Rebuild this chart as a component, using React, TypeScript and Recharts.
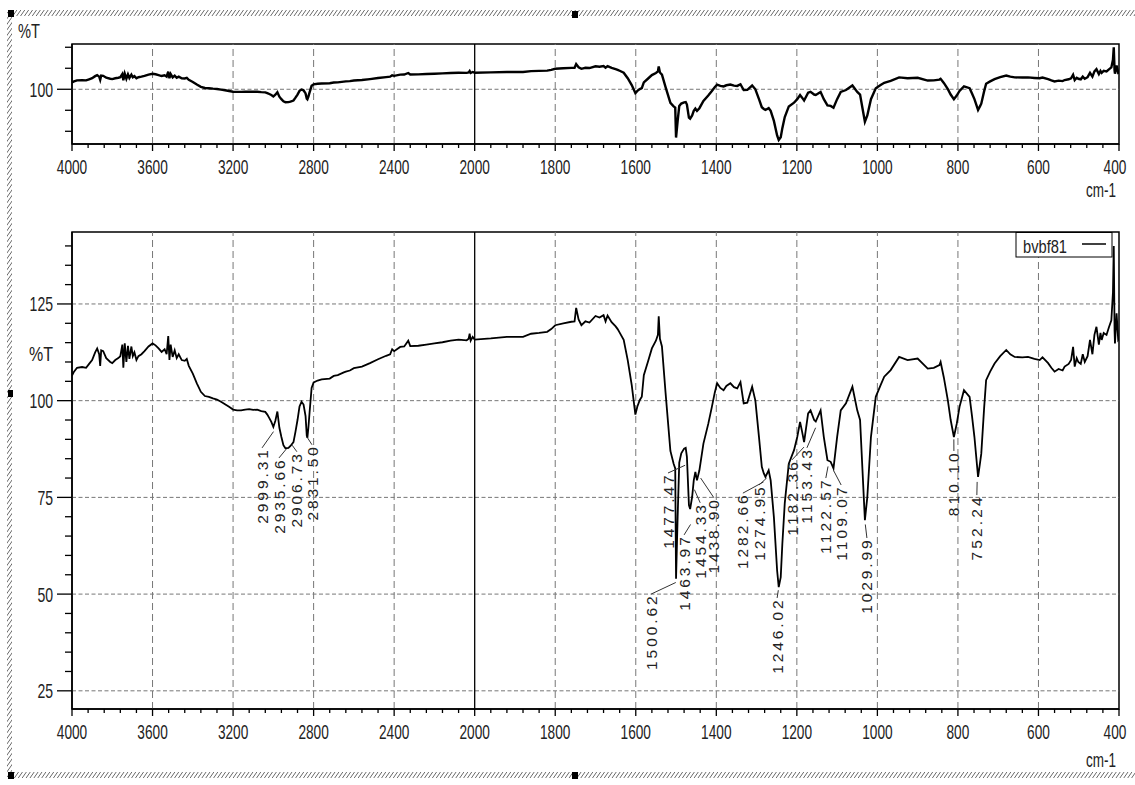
import React from 'react';
import { LineChart, Line, XAxis, YAxis, ReferenceLine, ReferenceArea, ReferenceDot } from 'recharts';

// ---- spectrum (wavenumber cm-1, %T) ----
const wavenumbers = [
  4000, 3990, 3975, 3950, 3930, 3915, 3900, 3885, 3875, 3865, 3860, 3855, 3845, 3830, 3810, 3800,
  3785, 3770, 3760, 3750, 3745, 3738, 3730, 3722, 3715, 3705, 3698, 3690, 3680, 3670, 3655, 3640,
  3620, 3600, 3585, 3570, 3555, 3540, 3530, 3522, 3516, 3510, 3500, 3490, 3480, 3470, 3455, 3440,
  3430, 3420, 3400, 3380, 3360, 3340, 3320, 3300, 3280, 3260, 3240, 3220, 3200, 3180, 3160, 3140,
  3120, 3100, 3080, 3060, 3040, 3030, 3020, 3010, 3000, 2990, 2980, 2970, 2960, 2950, 2940, 2925,
  2915, 2900, 2890, 2880, 2870, 2860, 2850, 2840, 2834, 2831, 2826, 2820, 2810, 2800, 2780, 2760,
  2720, 2700, 2680, 2650, 2640, 2620, 2600, 2560, 2520, 2480, 2440, 2420, 2410, 2400, 2370, 2350,
  2330, 2320, 2280, 2240, 2200, 2160, 2120, 2080, 2040, 2030, 2025, 2020, 2010, 2000, 1960, 1920,
  1880, 1860, 1840, 1820, 1810, 1800, 1780, 1760, 1752, 1748, 1742, 1735, 1725, 1715, 1700, 1690,
  1680, 1675, 1670, 1660, 1650, 1645, 1640, 1630, 1620, 1610, 1601, 1596, 1590, 1585, 1580, 1570,
  1560, 1550, 1545, 1543, 1540, 1535, 1526, 1514, 1506, 1502, 1500, 1496, 1492, 1487, 1480, 1476,
  1473, 1468, 1465, 1460, 1456, 1452, 1448, 1442, 1432, 1420, 1411, 1404, 1398, 1390, 1382, 1375,
  1365, 1356, 1348, 1340, 1332, 1323, 1311, 1303, 1294, 1287, 1282, 1278, 1270, 1265, 1257, 1249,
  1245, 1240, 1236, 1230, 1220, 1207, 1199, 1192, 1187, 1182, 1172, 1166, 1157, 1153, 1141, 1133,
  1124, 1116, 1109, 1100, 1091, 1078, 1062, 1050, 1043, 1037, 1031, 1025, 1016, 1004, 992, 983,
  967, 946, 925, 900, 875, 860, 846, 843, 835, 825, 818, 810, 803, 796, 785, 771,
  765, 759, 750, 745, 742, 735, 730, 720, 709, 695, 680, 670, 659, 640, 626, 610,
  597, 590, 576, 568, 560, 550, 540, 535, 525, 519, 514, 510, 505, 501, 495, 490,
  485, 478, 472, 466, 461, 456, 450, 446, 443, 438, 431, 425, 419, 415, 413, 411,
  410, 406, 402, 400,
];
const transmittance = [
  106.5, 107.5, 108.5, 108.7, 108.5, 109.5, 110.5, 112.5, 113.5, 112, 109, 113, 112.8, 111, 110, 109.7,
  110.5, 111, 111.5, 114.5, 108.5, 114.8, 110, 114.2, 110.8, 114, 111.5, 112.5, 110.5, 111.5, 112, 112.8,
  114, 114.8, 114.3, 113.5, 112.6, 113.3, 112, 116.7, 110.5, 114.5, 111.3, 113, 111, 112, 110.5, 110.3,
  110.8, 109, 107, 104.5, 102.3, 101.2, 101, 100.6, 100.3, 99.7, 99.1, 98.4, 97.7, 97.5, 97.5, 97.7,
  97.8, 97.6, 97.7, 97.3, 97.1, 96.4, 95.5, 94.5, 93.2, 94.8, 97.2, 93, 90.6, 88.5, 87.7, 87.8,
  88.3, 89.3, 92, 95, 98.5, 99.7, 99, 96, 91, 90.4, 93, 97, 103.3, 104.7, 105.2, 105.5,
  105.7, 106.4, 106.6, 107.3, 107.5, 107.8, 108.4, 108.8, 109.7, 110.7, 111.6, 112, 113.3, 112.8, 113.9, 114,
  115.5, 114.1, 114.2, 114.5, 114.8, 115.1, 115.5, 115.8, 115.6, 116, 117.3, 115.5, 116.5, 115.8, 116.1, 116.5,
  116.5, 117.3, 117.5, 117.8, 118.5, 119.5, 120, 120.4, 120.5, 124, 121, 119.5, 120.5, 120.2, 121.9, 121.5,
  122.1, 120.5, 122, 120.3, 119.2, 118.5, 117.6, 115.7, 110.5, 104, 96.4, 98.5, 100.2, 101, 106.6, 110,
  113.5, 115.5, 117, 121.8, 116, 114, 102, 87, 83.7, 82.5, 54, 70, 84, 86.4, 87.6, 87.8,
  85.5, 73, 72, 75.1, 79.4, 81.6, 79.4, 82, 88.9, 94, 98.4, 102, 104.5, 103.3, 102.7, 103.8,
  104.5, 103.5, 103.2, 104.8, 99.3, 99.5, 103.6, 100, 90.6, 82.9, 81.2, 80.3, 82, 79.4, 69.9, 56.1,
  51.8, 54.4, 63, 73.5, 83.7, 87.2, 90.6, 94.5, 92, 89.3, 96.7, 97.5, 95, 94.6, 97.5, 90.6,
  84.6, 84.2, 82.5, 90.6, 97.5, 99.3, 103.6, 97.5, 95, 82, 69.1, 75.1, 90.6, 101, 104, 106.2,
  107.9, 111.3, 110.5, 110.9, 108.3, 108.5, 109.2, 110, 106, 100.1, 95, 90.6, 94, 98.4, 102.7, 101,
  96, 90.6, 80.3, 84, 86.3, 98, 105.3, 107.5, 109.6, 111.5, 113.1, 112, 111.3, 111.2, 111.3, 110.8,
  110.5, 111.2, 109.7, 108.5, 107.5, 108.2, 107.8, 108.8, 109.5, 110.5, 113.9, 108.8, 111, 110, 109.5, 112,
  110, 111.5, 115.7, 112, 117, 119.1, 114.5, 117.5, 115.7, 117.5, 117, 119, 120.8, 128, 140, 118,
  114.8, 122.6, 115.7, 116,
];

// ---- axes ----
const xTickLabels = [4000, 3600, 3200, 2800, 2400, 2000, 1800, 1600, 1400, 1200, 1000, 800, 600, 400];
const mainYLabels = [25, 50, 75, 100, 125];
const overviewYTicks = [60, 80, 100, 120, 140];
const overviewYLabels = [100];
const seriesName = 'bvbf81';

// ---- peak annotations ----
const peakLabels = ['2999.31', '2935.66', '2906.73', '2831.50', '1500.62', '1477.47', '1463.97', '1454.33', '1438.90',
  '1282.66', '1274.95', '1246.02', '1182.36', '1153.43', '1122.57', '1109.07', '1029.99', '810.10', '752.24'];
const labelAnchorWn = [3056, 2972, 2883, 2808, 1562, 1520, 1480, 1440, 1406, 1334, 1294, 1249, 1212, 1175, 1128, 1090, 1026, 810, 753];
const labelTopT = [87.2, 84.6, 86.2, 88.0, 49.4, 80.7, 64.7, 73.0, 74.3, 75.5, 77.6, 48.4, 84.1, 87.2, 79.4, 77.6, 63.9, 86.4, 75.0];
const leaderT = [92, 87.5, 88.5, 90.5, 53, 83.3, 68, 77, 80, 79, 80, 51, 88, 93, 83, 82, 68, 90, 79];

// split wavenumber scale: 4000-2000 compressed by 2
const toU = (wn: number) => (wn >= 2000 ? (4000 - wn) / 2 : 1000 + (2000 - wn));
const fromU = (u: number) => (u <= 1000 ? 4000 - 2 * u : 3000 - u);

const rows = wavenumbers.map((wn, i) => ({ u: toU(wn), t: transmittance[i] }));
const majorU = xTickLabels.map(toU);
const minorU: number[] = [];
for (let u = 0; u <= 2600; u += 40) minorU.push(u);
const mainYTicks: number[] = [];
for (let v = 25; v <= 140; v += 5) mainYTicks.push(v);

const FONT = "'Liberation Sans', Arial, sans-serif";
const TXT = '#222';

const XTick = (props: any) => {
  const { x, y, payload } = props;
  const u = payload.value;
  const major = majorU.includes(u);
  const label = String(fromU(u));
  const lx = u === 2600 ? x - 4 : x;
  return (
    <g>
      <line x1={x} y1={y} x2={x} y2={y + (major ? 7 : 4)} stroke="#000" strokeWidth={1.3} />
      {major && (
        <text x={lx} y={y + 30} textAnchor="middle" fontSize={21} fontFamily={FONT} fill={TXT}
          textLength={label.length * 7.6} lengthAdjust="spacingAndGlyphs">{label}</text>
      )}
    </g>
  );
};

const makeYTick = (labeled: number[]) => (props: any) => {
  const { x, y, payload } = props;
  const v = payload.value;
  const major = labeled.includes(v);
  const label = String(v);
  return (
    <g>
      <line x1={x - (major ? 15 : 7)} y1={y} x2={x} y2={y} stroke="#000" strokeWidth={1.3} />
      {major && (
        <text x={x - 19} y={y + 7.5} textAnchor="end" fontSize={21} fontFamily={FONT} fill={TXT}
          textLength={label.length * 7.8} lengthAdjust="spacingAndGlyphs">{label}</text>
      )}
    </g>
  );
};

const peakShape = (text: string) => (p: any) => (
  <text x={p.cx} y={p.cy} transform={`rotate(-90 ${p.cx} ${p.cy})`} textAnchor="end" dy="0.36em"
    fontSize={15.5} fontFamily={FONT} fill={TXT} textLength={text.length * 10.5} lengthAdjust="spacing">{text}</text>
);

const gridU = majorU.filter((u) => u !== 0 && u !== 2600 && u !== 1000);

function Panel(props: { height: number; top: number; marginTop: number; xHeight: number; domain: [number, number]; yTicks: number[]; yLabels: number[]; strokeWidth: number; peaks: boolean }) {
  const { height, top, marginTop, xHeight, domain, yTicks, yLabels, strokeWidth, peaks } = props;
  return (
    <div style={{ position: 'absolute', left: 0, top }}>
      <LineChart width={1135} height={height} data={rows} margin={{ top: marginTop, right: 16, bottom: 0, left: 0 }} style={{ overflow: 'visible' }}>
        <XAxis dataKey="u" type="number" domain={[0, 2600]} allowDataOverflow ticks={minorU} interval={0}
          tick={XTick} tickLine={false} tickSize={0} tickMargin={0} height={xHeight}
          axisLine={{ stroke: '#000', strokeWidth: 1.5 }} />
        <YAxis type="number" domain={domain} allowDataOverflow ticks={yTicks} interval={0}
          tick={makeYTick(yLabels)} tickLine={false} tickSize={0} tickMargin={0} width={72}
          axisLine={{ stroke: '#000', strokeWidth: 1.5 }} />
        {gridU.map((u) => (
          <ReferenceLine key={'gx' + u} x={u} stroke="#777" strokeWidth={1} strokeDasharray="7 4" />
        ))}
        {yLabels.map((v) => (
          <ReferenceLine key={'gy' + v} y={v} stroke="#777" strokeWidth={1} strokeDasharray="4 2.5" />
        ))}
        <ReferenceLine x={toU(2000)} stroke="#000" strokeWidth={1.3} />
        <ReferenceArea x1={0} x2={2600} y1={domain[0]} y2={domain[1]} fill="none" stroke="#000" strokeWidth={1.5} fillOpacity={0} />
        <Line dataKey="t" type="linear" dot={false} stroke="#000" strokeWidth={strokeWidth} isAnimationActive={false} />
        {peaks && peakLabels.map((lab, i) => (
          <ReferenceLine key={'ld' + i} ifOverflow="visible" stroke="#333" strokeWidth={1}
            segment={[{ x: toU(parseFloat(lab)), y: leaderT[i] }, { x: toU(labelAnchorWn[i]), y: labelTopT[i] + 0.6 }]} />
        ))}
        {peaks && peakLabels.map((lab, i) => (
          <ReferenceDot key={'lb' + i} x={toU(labelAnchorWn[i])} y={labelTopT[i]} r={0} ifOverflow="visible" shape={peakShape(lab)} />
        ))}
      </LineChart>
    </div>
  );
}

export default function App() {
  return (
    <div style={{ position: 'absolute', left: 0, top: 0, width: 1135, height: 785, background: '#fff', overflow: 'hidden' }}>
      <svg width={1135} height={785} style={{ position: 'absolute', left: 0, top: 0 }}>
        <defs>
          <pattern id="hatch" width="3.2" height="3.2" patternUnits="userSpaceOnUse" patternTransform="rotate(35)">
            <line x1="0" y1="0" x2="0" y2="3.2" stroke="#444" strokeWidth="1.3" />
          </pattern>
        </defs>
        <rect x={8} y={10} width={1127} height={6} fill="url(#hatch)" />
        <rect x={7} y={12} width={5} height={765} fill="url(#hatch)" />
        <rect x={8} y={772} width={1127} height={6} fill="url(#hatch)" />
        <rect x={8} y={10} width={6} height={7} fill="#000" />
        <rect x={572} y={11} width={6} height={7} fill="#000" />
        <rect x={8} y={390} width={5} height={7} fill="#000" />
        <rect x={8} y={772} width={6} height={7} fill="#000" />
        <rect x={572} y={772} width={6} height={7} fill="#000" />
      </svg>
      <Panel height={200} top={0} marginTop={44} xHeight={56} domain={[47.9, 143.1]} yTicks={overviewYTicks} yLabels={overviewYLabels} strokeWidth={2.4} peaks={false} />
      <Panel height={585} top={200} marginTop={32} xHeight={76} domain={[20.3, 143.6]} yTicks={mainYTicks} yLabels={mainYLabels} strokeWidth={1.8} peaks={true} />
      <svg width={1135} height={785} style={{ position: 'absolute', left: 0, top: 0, pointerEvents: 'none' }}>
        <text x={18} y={38} fontSize={21} fontFamily={FONT} fill={TXT} textLength={22} lengthAdjust="spacingAndGlyphs">%T</text>
        <text x={29} y={361} fontSize={21} fontFamily={FONT} fill={TXT} textLength={24} lengthAdjust="spacingAndGlyphs">%T</text>
        <text x={1086} y={197} fontSize={21} fontFamily={FONT} fill={TXT} textLength={30} lengthAdjust="spacingAndGlyphs">cm-1</text>
        <text x={1086} y={767} fontSize={21} fontFamily={FONT} fill={TXT} textLength={30} lengthAdjust="spacingAndGlyphs">cm-1</text>
        <rect x={1016} y={232.5} width={96} height={24.5} fill="#fff" stroke="#000" strokeWidth={1} />
        <text x={1023} y={253} fontSize={18} fontFamily={FONT} fill={TXT} textLength={44} lengthAdjust="spacingAndGlyphs">{seriesName}</text>
        <line x1={1082} y1={244} x2={1106} y2={244} stroke="#000" strokeWidth={1.5} />
      </svg>
    </div>
  );
}
